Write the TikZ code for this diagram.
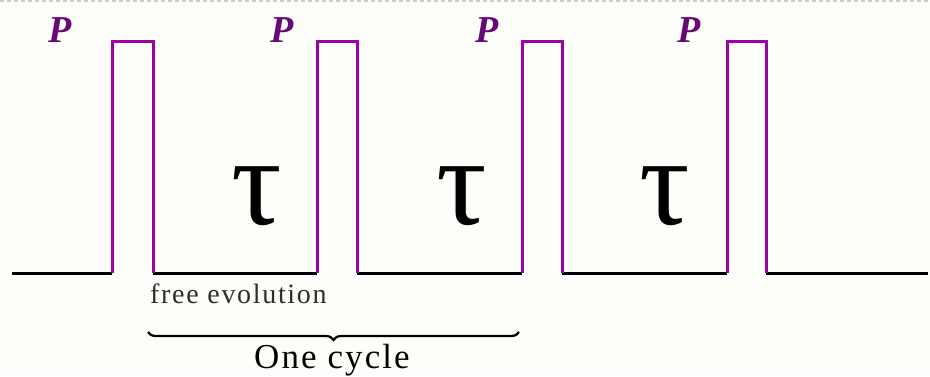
\documentclass[tikz,border=0pt]{standalone}
\usepackage{fontspec}
\setmainfont{Liberation Serif}
\usetikzlibrary{decorations.pathreplacing}
\definecolor{bgc}{RGB}{253,253,249}
\definecolor{pulsec}{RGB}{158,0,172}
\definecolor{plabc}{RGB}{104,8,120}
\definecolor{txtc}{RGB}{45,45,45}
\tikzset{
  base/.style={line width=3pt, black},
  pulse/.style={line width=3pt, pulsec, line join=miter},
  plab/.style={font=\fontsize{38}{38}\selectfont\bfseries\itshape, text=plabc, inner sep=0pt},
  taulab/.style={font=\fontsize{126}{126}\selectfont, inner sep=0pt, anchor=base},
}
\begin{document}
\begin{tikzpicture}[x=1pt,y=-1pt]
\useasboundingbox (0,0) rectangle (930,376);
\fill[bgc] (0,0) rectangle (930,376);
\draw[gray!40, line width=1.2pt, dash pattern=on 4pt off 3pt] (0,1) -- (930,1);
% baseline segments
\coordinate (s0) at (12,273);
\coordinate (e4) at (928,273);
\foreach \a/\b [count=\i] in {112/153, 317/357, 522/562, 727/766}{
  \coordinate (a\i) at (\a,273);
  \coordinate (b\i) at (\b,273);
}
\draw[base] (s0) -- (a1);
\draw[base] (b1) -- (a2);
\draw[base] (b2) -- (a3);
\draw[base] (b3) -- (a4);
\draw[base] (b4) -- (e4);
\foreach \i in {1,...,4}{
  \draw[pulse] (a\i) -- ([yshift=232pt]a\i) -- ([yshift=232pt]b\i) -- (b\i);
}
% P labels
\node[plab] (p1) at (60,30) {P};
\node[plab] (p2) at (282,30) {P};
\node[plab] (p3) at (487,30) {P};
\node[plab] (p4) at (689,30) {P};
% tau labels
\node[taulab] (t1) at (257,224) {τ};
\node[taulab] (t2) at (462,224) {τ};
\node[taulab] (t3) at (665,224) {τ};
% free evolution
\node[font=\fontsize{28}{28}\selectfont\addfontfeature{LetterSpace=6}, text=txtc, anchor=base west, inner sep=0pt] (fe) at (150,303) {free evolution};
% brace
\coordinate (br1) at (148,332);
\coordinate (br2) at (519,332);
\draw[decorate, decoration={brace, amplitude=8pt, mirror}, line width=2.2pt, black] (br1) -- (br2);
\node[font=\fontsize{35}{35}\selectfont\addfontfeature{LetterSpace=6}, text=black, anchor=base, inner sep=0pt] (oc) at (332,368) {One cycle};
\end{tikzpicture}
\end{document}
